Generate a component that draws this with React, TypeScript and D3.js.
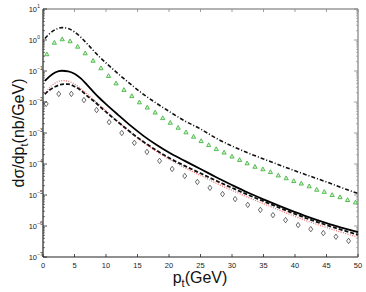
import React from 'react';
import * as d3 from 'd3';

// transverse momentum grid of the curves (GeV)
const ptGrid = [0.3, 1, 2, 3, 4, 5, 6, 7, 8, 9, 10, 12, 14, 16, 18, 20, 22.5, 25, 27.5, 30, 32.5, 35, 37.5, 40, 42.5, 45, 47.5, 50];

const dashDotVals = [1.12, 1.58, 2.19, 2.51, 2.34, 1.82, 1.23, 0.759, 0.457, 0.282, 0.182, 0.0794, 0.0363, 0.0174, 0.00912, 0.00501, 0.00245, 0.00135, 6.76e-4, 3.8e-4, 2.29e-4, 1.45e-4, 9.33e-5, 6.03e-5, 3.98e-5, 2.63e-5, 1.7e-5, 1.12e-5];
const solidVals = [0.0479, 0.0661, 0.0912, 0.102, 0.0977, 0.0813, 0.0575, 0.0355, 0.0214, 0.0132, 0.00851, 0.00372, 0.00166, 7.94e-4, 4.17e-4, 2.34e-4, 1.26e-4, 6.92e-5, 3.72e-5, 2.09e-5, 1.2e-5, 7.24e-6, 4.47e-6, 2.82e-6, 1.82e-6, 1.23e-6, 8.71e-7, 6.31e-7];
const dashedVals = [0.0178, 0.024, 0.0316, 0.0372, 0.038, 0.0316, 0.024, 0.0158, 0.011, 0.00724, 0.00479, 0.00219, 0.00102, 5.13e-4, 2.75e-4, 1.58e-4, 8.71e-5, 5.01e-5, 2.88e-5, 1.7e-5, 1.02e-5, 6.31e-6, 3.89e-6, 2.45e-6, 1.58e-6, 1.07e-6, 7.41e-7, 5.25e-7];
const dottedVals = [0.0182, 0.0282, 0.0417, 0.049, 0.0468, 0.038, 0.0269, 0.0182, 0.012, 0.00794, 0.00513, 0.00224, 0.001, 4.9e-4, 2.57e-4, 1.45e-4, 7.59e-5, 4.27e-5, 2.4e-5, 1.41e-5, 8.51e-6, 5.25e-6, 3.24e-6, 2.04e-6, 1.32e-6, 8.91e-7, 6.17e-7, 4.37e-7];

// triangle points
const triPt = [0.6, 1.8, 3.05, 4.3, 5.5, 6.7, 7.95, 9.2, 10.4, 11.6, 12.85, 14.1, 15.3, 16.55, 17.8, 19.0, 20.2, 21.45, 22.7, 23.9, 25.1, 26.3, 27.5, 28.75, 30.0, 31.2, 32.4, 33.65, 34.9, 36.1, 37.35, 38.6, 39.8, 41.0, 42.25, 43.45, 44.65, 45.9, 47.15, 48.35, 49.6];
const triVals = [0.347, 0.818, 1.054, 0.912, 0.608, 0.372, 0.214, 0.123, 0.0692, 0.0398, 0.0245, 0.0155, 0.00977, 0.00661, 0.00457, 0.00302, 0.00214, 0.00148, 0.00105, 7.59e-4, 5.5e-4, 4.07e-4, 3.02e-4, 2.34e-4, 1.74e-4, 1.35e-4, 1.05e-4, 8.13e-5, 6.76e-5, 5.5e-5, 4.27e-5, 3.47e-5, 2.82e-5, 2.34e-5, 1.91e-5, 1.48e-5, 1.26e-5, 1.0e-5, 8.5e-6, 6.9e-6, 5.75e-6];

// diamond points
const diaPt = [0.5, 2.5, 4.5, 6.5, 8.5, 10.5, 12.5, 14.5, 16.5, 18.5, 20.5, 22.5, 24.5, 26.5, 28.5, 30.5, 32.5, 34.5, 36.5, 38.5, 40.5, 42.5, 44.5, 46.5, 48.5];
const diaVals = [8.7e-3, 1.82e-2, 1.82e-2, 1.15e-2, 5.5e-3, 2.24e-3, 1.0e-3, 4.8e-4, 2.45e-4, 1.26e-4, 6.9e-5, 4.1e-5, 2.63e-5, 1.7e-5, 1.07e-5, 7.4e-6, 4.8e-6, 3.3e-6, 2.24e-6, 1.55e-6, 1.07e-6, 7.9e-7, 5.9e-7, 4.5e-7, 3.3e-7];

const xTicks = [0, 5, 10, 15, 20, 25, 30, 35, 40, 45, 50];
const yExps = [1, 0, -1, -2, -3, -4, -5, -6, -7];

const W = 366;
const H = 292;
const margin = { top: 9, right: 8, bottom: 35, left: 43 };
const font = "'Liberation Sans', Arial, Helvetica, sans-serif";

export default function App() {
  const x = d3.scaleLinear().domain([0, 50]).range([margin.left, W - margin.right]);
  const y = d3.scaleLog().domain([1e-7, 10]).range([H - margin.bottom, margin.top]);
  const x0 = x.range()[0], x1 = x.range()[1];
  const y0 = y.range()[0], y1 = y.range()[1];

  const line = d3.line<number>()
    .x((d, i) => x(ptGrid[i]))
    .y(d => y(d))
    .curve(d3.curveMonotoneX);

  // minor ticks 2..9 in every decade
  const minor: number[] = [];
  for (let e = -7; e < 1; e++) {
    for (let m = 2; m <= 9; m++) minor.push(m * Math.pow(10, e));
  }

  const tri = (cx: number, cy: number) => `M${cx},${cy - 2.3}L${cx + 2.1},${cy + 1.5}L${cx - 2.1},${cy + 1.5}Z`;
  const dia = (cx: number, cy: number) => `M${cx},${cy - 2.7}L${cx + 2},${cy}L${cx},${cy + 2.7}L${cx - 2},${cy}Z`;

  return (
    <svg width={W} height={H} style={{ position: 'absolute', left: 0, top: 0, background: '#fff' }} fontFamily={font}>
      {/* frame */}
      <line x1={x0} x2={x1} y1={y1} y2={y1} stroke="#999" strokeWidth={1.5} />
      <line x1={x1} x2={x1} y1={y1} y2={y0} stroke="#999" strokeWidth={1.5} />
      <line x1={x0} x2={x0} y1={y1} y2={y0} stroke="#222" strokeWidth={1.2} />
      <line x1={x0} x2={x1} y1={y0} y2={y0} stroke="#222" strokeWidth={1.2} />

      {/* x ticks */}
      {xTicks.map(t => (
        <g key={'x' + t}>
          <line x1={x(t)} x2={x(t)} y1={y0} y2={y0 - 3} stroke="#222" strokeWidth={0.8} />
          <line x1={x(t)} x2={x(t)} y1={y1} y2={y1 + 3} stroke="#888" strokeWidth={0.8} />
          <text x={x(t)} y={y0 + 11} fontSize={7.5} textAnchor="middle" fill="#222">{t}</text>
        </g>
      ))}

      {/* y ticks */}
      {yExps.map(e => (
        <g key={'y' + e}>
          <line x1={x0} x2={x0 + 4} y1={y(Math.pow(10, e))} y2={y(Math.pow(10, e))} stroke="#222" strokeWidth={0.8} />
          <line x1={x1} x2={x1 - 4} y1={y(Math.pow(10, e))} y2={y(Math.pow(10, e))} stroke="#888" strokeWidth={0.8} />
          <text x={37} y={y(Math.pow(10, e)) + 2.7} fontSize={7.5} textAnchor="end" fill="#222">10</text>
          <text x={37.3} y={y(Math.pow(10, e)) - 1.5} fontSize={4.8} fill="#222">{e < 0 ? '\u2212' + (-e) : e}</text>
        </g>
      ))}
      {minor.map((v, i) => (
        <g key={'m' + i}>
          <line x1={x0} x2={x0 + 2} y1={y(v)} y2={y(v)} stroke="#222" strokeWidth={0.6} />
          <line x1={x1} x2={x1 - 2} y1={y(v)} y2={y(v)} stroke="#888" strokeWidth={0.6} />
        </g>
      ))}

      {/* curves */}
      <path d={line(dashDotVals) || ''} fill="none" stroke="#111" strokeWidth={1.6} strokeDasharray="4 2 1 2" />
      <path d={line(dottedVals) || ''} fill="none" stroke="#f07070" strokeWidth={1.3} strokeDasharray="1 1.4" />
      <path d={line(dashedVals) || ''} fill="none" stroke="#111" strokeWidth={1.8} strokeDasharray="4 2" />
      <path d={line(solidVals) || ''} fill="none" stroke="#000" strokeWidth={1.8} />

      {/* markers */}
      {triPt.map((p, i) => (
        <path key={'t' + i} d={tri(x(p), y(triVals[i]))} fill="#d4f0cc" stroke="#44b844" strokeWidth={0.9} />
      ))}
      {diaPt.map((p, i) => (
        <path key={'d' + i} d={dia(x(p), y(diaVals[i]))} fill="none" stroke="#444" strokeWidth={0.8} />
      ))}

      {/* axis titles */}
      <text x={200} y={283} fontSize={16} textAnchor="middle" fill="#111">
        p<tspan fontSize={11} dy={4}>t</tspan><tspan dy={-4}>(GeV)</tspan>
      </text>
      <text transform="translate(24,133) rotate(-90)" fontSize={16} textAnchor="middle" fill="#111">
        dσ/dp<tspan fontSize={11} dy={4}>t</tspan><tspan dy={-4}>(nb/GeV)</tspan>
      </text>
    </svg>
  );
}
